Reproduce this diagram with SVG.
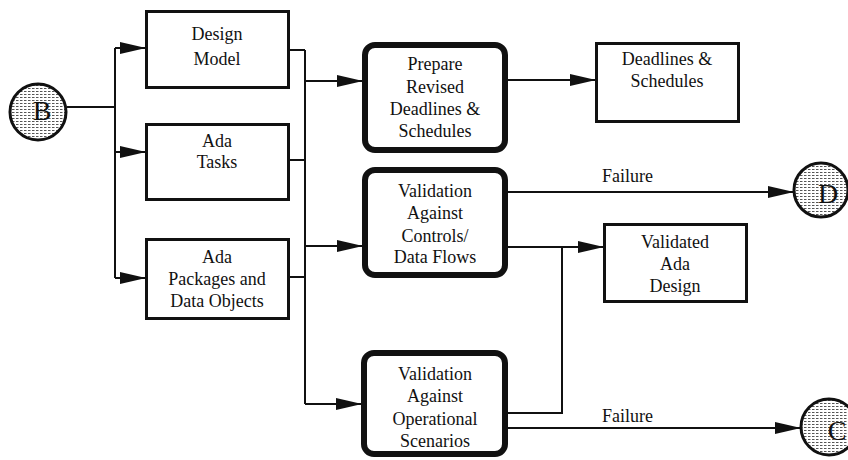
<svg xmlns="http://www.w3.org/2000/svg" width="848" height="460" viewBox="0 0 848 460">
  <style>
    .box { fill: #ffffff; stroke: #111111; stroke-width: 3; }
    .proc { fill: #ffffff; stroke: #111111; stroke-width: 6; }
    .conn { fill: none; stroke: #111111; stroke-width: 2; }
    .arrow { fill: none; stroke: #111111; stroke-width: 2; marker-end: url(#head); }
    .lbl { font-family: "Liberation Serif", "Times New Roman", serif; font-size: 18px; fill: #111111; text-anchor: middle; }
    .side { font-family: "Liberation Serif", "Times New Roman", serif; font-size: 18px; fill: #111111; }
    .term { fill: url(#halftone); stroke: #111111; stroke-width: 3; }
    .tlbl { font-family: "Liberation Serif", "Times New Roman", serif; font-size: 28px; fill: #111111; text-anchor: middle; }
  </style>
  <defs>
    <marker id="head" markerUnits="userSpaceOnUse" markerWidth="27" markerHeight="14" refX="26" refY="7" orient="auto">
      <path d="M0,1 L26,7 L0,13 z" fill="#111111"/>
    </marker>
    <pattern id="halftone" patternUnits="userSpaceOnUse" width="4" height="3">
      <rect width="4" height="3" fill="#ffffff"/>
      <rect x="0" y="1" width="2.5" height="1" fill="#555555"/>
    </pattern>
  </defs>

  <rect width="848" height="460" fill="#ffffff"/>

  <!-- connectors -->
  <g id="connectors">
    <!-- fan-out from B -->
    <path class="conn" d="M67,107 H115"/>
    <path class="conn" d="M115,48 V278"/>
    <path class="arrow" d="M115,48 H146"/>
    <path class="arrow" d="M115,152 H146"/>
    <path class="arrow" d="M115,278 H146"/>
    <!-- bus collecting the three design artefacts -->
    <path class="conn" d="M289,50 H305"/>
    <path class="conn" d="M289,160 H305"/>
    <path class="conn" d="M289,277 H305"/>
    <path class="conn" d="M305,50 V404"/>
    <path class="arrow" d="M305,81 H363"/>
    <path class="arrow" d="M305,246 H363"/>
    <path class="arrow" d="M305,404 H362"/>
    <!-- outputs -->
    <path class="arrow" d="M507,80 H596"/>
    <path class="arrow" d="M507,192 H794"/>
    <path class="arrow" d="M507,247 H604"/>
    <path class="conn" d="M506,413 H562 V247"/>
    <path class="arrow" d="M506,428 H801"/>
    <text class="side" x="602" y="182">Failure</text>
    <text class="side" x="602" y="422">Failure</text>
  </g>

  <!-- off-page connectors -->
  <g id="term-b">
    <circle class="term" cx="38" cy="112" r="28"/>
    <text class="tlbl" x="42" y="120">B</text>
  </g>
  <g id="term-d">
    <circle class="term" cx="821" cy="190" r="27"/>
    <text class="tlbl" x="828" y="203">D</text>
  </g>
  <g id="term-c">
    <circle class="term" cx="829" cy="427" r="28"/>
    <text class="tlbl" x="837" y="440">C</text>
  </g>

  <!-- input artefacts -->
  <g id="design-model">
    <rect class="box" x="146.5" y="11.5" width="142" height="76"/>
    <text class="lbl" x="217" y="40">Design</text>
    <text class="lbl" x="217" y="65">Model</text>
  </g>
  <g id="ada-tasks">
    <rect class="box" x="146.5" y="124.5" width="142" height="75"/>
    <text class="lbl" x="217" y="147">Ada</text>
    <text class="lbl" x="217" y="168">Tasks</text>
  </g>
  <g id="ada-packages">
    <rect class="box" x="146.5" y="239.5" width="142" height="79"/>
    <text class="lbl" x="217" y="263">Ada</text>
    <text class="lbl" x="217" y="285">Packages and</text>
    <text class="lbl" x="217" y="307">Data Objects</text>
  </g>

  <!-- processes -->
  <g id="prepare-deadlines">
    <rect class="proc" x="365" y="45" width="140" height="105" rx="10"/>
    <text class="lbl" x="435" y="70">Prepare</text>
    <text class="lbl" x="435" y="93">Revised</text>
    <text class="lbl" x="435" y="115">Deadlines &amp;</text>
    <text class="lbl" x="435" y="137">Schedules</text>
  </g>
  <g id="validate-controls">
    <rect class="proc" x="365" y="170" width="140" height="105" rx="10"/>
    <text class="lbl" x="435" y="197">Validation</text>
    <text class="lbl" x="435" y="219">Against</text>
    <text class="lbl" x="435" y="242">Controls/</text>
    <text class="lbl" x="435" y="263">Data Flows</text>
  </g>
  <g id="validate-scenarios">
    <rect class="proc" x="364" y="353" width="141" height="101" rx="10"/>
    <text class="lbl" x="435" y="380">Validation</text>
    <text class="lbl" x="435" y="402">Against</text>
    <text class="lbl" x="435" y="425">Operational</text>
    <text class="lbl" x="435" y="447">Scenarios</text>
  </g>

  <!-- results -->
  <g id="deadlines-schedules">
    <rect class="box" x="596.5" y="43.5" width="142" height="78"/>
    <text class="lbl" x="667" y="65">Deadlines &amp;</text>
    <text class="lbl" x="667" y="87">Schedules</text>
  </g>
  <g id="validated-design">
    <rect class="box" x="604.5" y="224.5" width="142" height="77"/>
    <text class="lbl" x="675" y="248">Validated</text>
    <text class="lbl" x="675" y="270">Ada</text>
    <text class="lbl" x="675" y="292">Design</text>
  </g>
</svg>
